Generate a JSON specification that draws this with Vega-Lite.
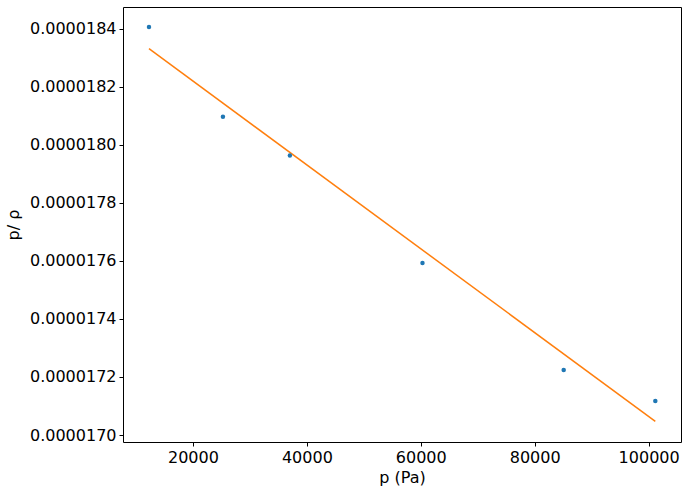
{
  "$schema": "https://vega.github.io/schema/vega-lite/v6.json",
  "description": "p/rho against pressure, measured points with fitted line",
  "autosize": "none",
  "width": 558,
  "height": 435,
  "padding": {"left": 123, "top": 7, "right": 7, "bottom": 48},
  "config": {
    "font": "DejaVu Sans",
    "view": {"stroke": "#000000", "strokeWidth": 1},
    "axis": {
      "grid": false,
      "domain": false,
      "tickColor": "#000000",
      "tickSize": 4,
      "labelFontSize": 16,
      "labelColor": "#000000",
      "titleFontSize": 16,
      "titleFontWeight": "normal",
      "titleColor": "#000000",
      "labelPadding": 3
    }
  },
  "datasets": {
    "measured": [
      {"p": 12281, "ratio": 0.00001840586},
      {"p": 25263, "ratio": 0.00001809663},
      {"p": 37018, "ratio": 0.00001796347},
      {"p": 60298, "ratio": 0.00001759276},
      {"p": 85088, "ratio": 0.00001722412},
      {"p": 101175, "ratio": 0.0000171173}
    ],
    "fit": [
      {"p": 12281, "ratio": 0.00001833108},
      {"p": 101175, "ratio": 0.00001704686}
    ]
  },
  "encoding": {
    "x": {
      "field": "p",
      "type": "quantitative",
      "title": "p (Pa)",
      "scale": {"domain": [7719, 105684], "nice": false, "zero": false},
      "axis": {"values": [20000, 40000, 60000, 80000, 100000], "format": "d", "titlePadding": 4}
    },
    "y": {
      "field": "ratio",
      "type": "quantitative",
      "title": "p/ ρ",
      "scale": {"domain": [0.0000169759, 0.0000184748], "nice": false, "zero": false},
      "axis": {
        "values": [0.000017, 0.0000172, 0.0000174, 0.0000176, 0.0000178, 0.000018, 0.0000182, 0.0000184],
        "format": ".7f",
        "titlePadding": 8
      }
    }
  },
  "layer": [
    {
      "data": {"name": "fit"},
      "mark": {"type": "line", "color": "#ff7f0e", "strokeWidth": 1.5}
    },
    {
      "data": {"name": "measured"},
      "mark": {"type": "circle", "color": "#1f77b4", "size": 20, "opacity": 1}
    }
  ]
}
